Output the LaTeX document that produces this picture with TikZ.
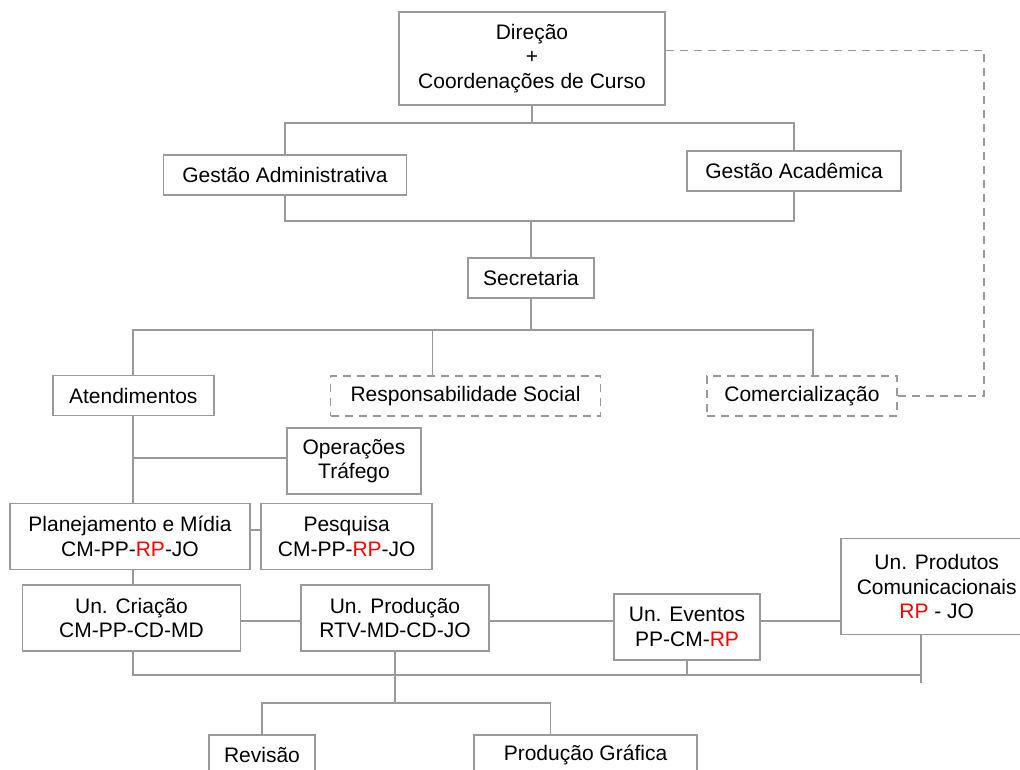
\documentclass[tikz,border=0pt]{standalone}
\usepackage{fontspec}
\setmainfont{Liberation Sans}
\usepackage{xcolor}
\definecolor{linegray}{RGB}{153,153,153}

\begin{document}
\begin{tikzpicture}[x=1pt, y=-1pt,
  every node/.style={font=\fontsize{21}{24.5}\selectfont},
  box/.style={draw=linegray, line width=1.8pt, rectangle, inner sep=0pt, align=center},
  dbox/.style={box, line width=1.4pt, dash pattern=on 8pt off 6pt},
  conn/.style={draw=linegray, line width=1.8pt},
  dconn/.style={conn, line width=1.4pt, dash pattern=on 8pt off 6pt}]
\useasboundingbox (0,0) rectangle (1020,769);
\fill[white] (0,0) rectangle (1020,769);

% Direction and management
\node[box, minimum width=266pt, minimum height=93pt] (dir) at (532,58.5) {Direção\\+\\Coordenações de Curso};
\node[box, minimum width=243pt, minimum height=40pt] (adm) at (285,175) {Gestão Administrativa};
\node[box, minimum width=214pt, minimum height=40pt] (acad) at (794,171) {Gestão Acadêmica};
\node[box, minimum width=126pt, minimum height=40pt] (sec) at (531,278) {Secretaria};

% Secretaria branches
\node[box, minimum width=161pt, minimum height=40pt] (aten) at (133.3,395.5) {Atendimentos};
\node[dbox, minimum width=270pt, minimum height=40pt] (resp) at (465.5,396) {Responsabilidade Social};
\node[dbox, minimum width=190pt, minimum height=40pt] (com) at (802,396) {Comercialização};

% Units
\node[box, minimum width=134pt, minimum height=66pt] (oper) at (354,461) {Operações\\Tráfego};
\node[box, minimum width=240pt, minimum height=66pt] (plan) at (130,536.5) {Planejamento e Mídia\\CM-PP-\textcolor{red}{RP}-JO};
\node[box, minimum width=171pt, minimum height=66pt] (pesq) at (346.7,536.5) {Pesquisa\\CM-PP-\textcolor{red}{RP}-JO};
\node[box, minimum width=218pt, minimum height=66pt] (cria) at (131.5,618) {Un. Criação\\CM-PP-CD-MD};
\node[box, minimum width=188pt, minimum height=66pt] (prod) at (395,618) {Un. Produção\\RTV-MD-CD-JO};
\node[box, minimum width=146pt, minimum height=66pt] (even) at (687,627) {Un. Eventos\\PP-CM-\textcolor{red}{RP}};
\node[box, minimum width=192pt, minimum height=96pt] (unpc) at (936.7,586.5) {Un. Produtos\\Comunicacionais\\\textcolor{red}{RP} - JO};
\node[box, minimum width=106pt, minimum height=40pt] (rev) at (262,755) {Revisão};
\node[box, minimum width=223pt, minimum height=40pt] (graf) at (585.5,755) {Produção Gráfica};

% bus levels
\coordinate (b1) at (0,123);
\coordinate (b2) at (0,221);
\coordinate (b3) at (0,330);
\coordinate (b4) at (0,458);
\coordinate (b5) at (0,530);
\coordinate (b6) at (0,621);
\coordinate (b7) at (0,675);
\coordinate (b8) at (0,703);
\coordinate (b9) at (0,683);
\coordinate (rt) at (984,0);
\coordinate (resptop) at ([xshift=-33pt]resp.north);
\coordinate (comtop) at ([xshift=11pt]com.north);
\coordinate (pcbot) at ([xshift=-16pt]unpc.south);
\coordinate (graftop) at ([xshift=-35pt]graf.north);

% Connectors
\draw[conn] (dir.south) -- (dir.south |- b1);
\draw[conn] (adm.north) |- (acad.north |- b1) -- (acad.north);
\draw[conn] (adm.south) |- (acad.south |- b2) -- (acad.south);
\draw[conn] (sec.north) -- (sec.north |- b2);
\draw[conn] (sec.south) -- (sec.south |- b3);
\draw[conn] (aten.north) |- (comtop |- b3) -- (comtop);
\draw[conn] (resptop) -- (resptop |- b3);
\draw[dconn] ([yshift=8pt]dir.east) -| (rt |- com.east) -- (com.east);

\draw[conn] (aten.south) -- (aten.south |- plan.north);
\draw[conn] (aten.south |- b4) -- (oper.west |- b4);
\draw[conn] (plan.east |- b5) -- (pesq.west |- b5);
\draw[conn] (aten.south |- plan.south) -- (aten.south |- cria.north);
\draw[conn] (cria.east |- b6) -- (prod.west |- b6);
\draw[conn] (prod.east |- b6) -- (even.west |- b6);
\draw[conn] (even.east |- b6) -- (unpc.west |- b6);

\draw[conn] (aten.south |- cria.south) |- (pcbot |- b7);
\draw[conn] (pcbot) -- (pcbot |- b9);
\draw[conn] (even.south) -- (even.south |- b7);
\draw[conn] (prod.south) -- (prod.south |- b8);
\draw[conn] (rev.north) |- (graftop |- b8) -- (graftop);

\end{tikzpicture}
\end{document}
